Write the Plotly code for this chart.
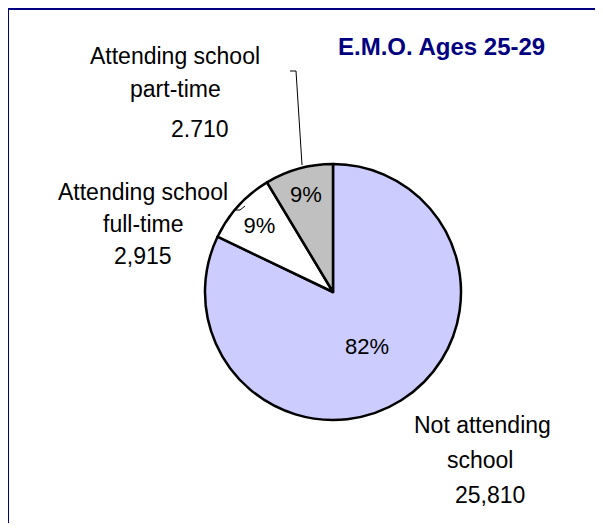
import plotly.graph_objects as go

categories = ["Not attending school", "Attending school full-time", "Attending school part-time"]
values = [25810, 2915, 2710]
value_labels = ["25,810", "2,915", "2.710"]
label_lines = [["Not attending", "school"], ["Attending school", "full-time"], ["Attending school", "part-time"]]
colors = ["#CCCCFF", "#FFFFFF", "#C0C0C0"]
title_text = "E.M.O. Ages 25-29"

W, H = 587, 515
OFF = 8  # page body margin
def px(x): return (x - OFF) / W
def py(y): return 1 - (y - OFF) / H

fig = go.Figure()
fig.add_trace(go.Pie(
    labels=categories, values=values, sort=False, direction="clockwise", rotation=0,
    marker=dict(colors=colors, line=dict(color="black", width=2.5)),
    texttemplate="%{percent:.0%}", textposition="inside", insidetextorientation="horizontal",
    textfont=dict(family="Liberation Sans, Arial", size=22, color="black"),
    domain=dict(x=[px(205), px(461)], y=[py(420), py(164)]),
    showlegend=False, hoverinfo="label+value+percent",
))

font = dict(family="Liberation Sans, Arial", size=23, color="black")
ann = []
pos = {
    0: [(482, 425), (480, 460), (490, 495)],
    1: [(143, 192), (143, 224), (143, 256)],
    2: [(175, 56), (175, 89), (200, 129)],
}
for i in range(3):
    lines = label_lines[i] + [value_labels[i]]
    for (x, y), t in zip(pos[i], lines):
        ann.append(dict(x=px(x), y=py(y), xref="paper", yref="paper", text=t, showarrow=False,
                        font=font, xanchor="center", yanchor="middle"))
ann.append(dict(x=px(441), y=py(47), xref="paper", yref="paper", text="<b>" + title_text + "</b>",
                showarrow=False, font=dict(family="Liberation Sans, Arial", size=24, color="#000080"),
                xanchor="center", yanchor="middle"))

shapes = [
    dict(type="path", xref="paper", yref="paper",
         path=f"M {px(8)},{py(540)} L {px(8)},{py(9)} L {px(620)},{py(9)}",
         line=dict(color="#000080", width=2)),
    dict(type="path", xref="paper", yref="paper",
         path=f"M {px(290)},{py(71)} L {px(296)},{py(71)} L {px(302)},{py(165)}",
         line=dict(color="black", width=1)),
    dict(type="path", xref="paper", yref="paper",
         path=f"M {px(234)},{py(210)} L {px(240)},{py(210)} L {px(245)},{py(206)}",
         line=dict(color="black", width=1)),
]

fig.update_layout(width=W, height=H, margin=dict(l=0, r=0, t=0, b=0),
                  paper_bgcolor="white", plot_bgcolor="white",
                  annotations=ann, shapes=shapes)
fig.write_html("out.html")
